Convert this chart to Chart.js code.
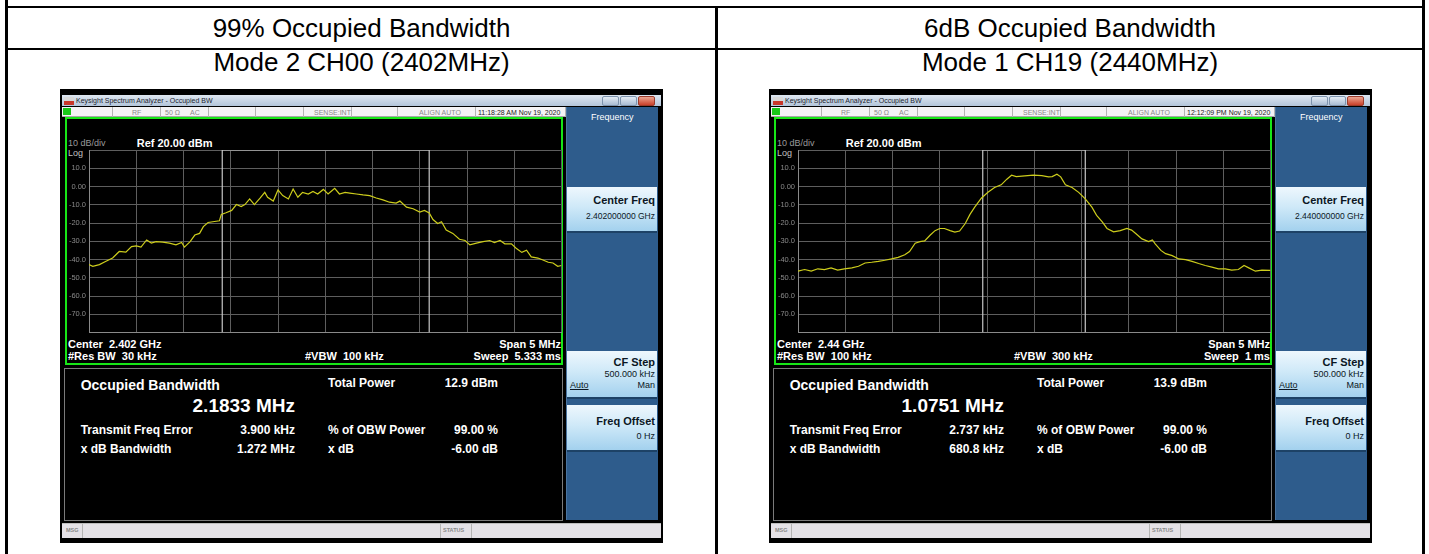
<!DOCTYPE html>
<html>
<head>
<meta charset="utf-8">
<script src="https://cdn.jsdelivr.net/npm/chart.js@4"></script>
<style>
body{margin:0;background:#fff;width:1429px;height:554px;overflow:hidden;position:relative;font-family:Arial,"Liberation Sans",sans-serif}
.ln{position:absolute;background:#000}
.cap{position:absolute;font-size:26px;line-height:1;text-align:center;color:#000;white-space:nowrap}
.scr{position:absolute;top:89px;width:603px;height:454px;background:#000;overflow:hidden}
.t{position:absolute;line-height:1;white-space:pre;color:#fff}
.titlebar{position:absolute;left:2px;top:6px;width:599px;height:11px;background:linear-gradient(#dfe7f1,#b3c5da)}
.ico{position:absolute;left:4px;top:8px;width:10px;height:8px;background:linear-gradient(#d8d8d8 0 45%,#c8372a 45%)}
.wb{position:absolute;top:7px;width:15px;height:8px;border:1px solid #7d93ad;border-radius:2px;background:linear-gradient(#e3ebf4,#a9bcd3)}
.wb.close{background:linear-gradient(#eca48f,#c8412b);border-color:#9b3a2a}
.status{position:absolute;left:2px;top:18px;width:503px;height:9px;background:#f4f3f5;border-bottom:1px solid #a8a8a8}
.dv{position:absolute;top:18px;width:1px;height:10px;background:#b4b4b4}
.lxi{position:absolute;left:3px;top:19px;width:8px;height:7px;background:#19c819}
.green{position:absolute;left:5px;top:28px;width:494px;height:244px;border:2px solid #17e617}
.lower{position:absolute;left:4px;top:279px;width:497px;height:151px;border:1px solid #7a7a7a;background:#000}
.panel{position:absolute;left:506px;top:18px;width:91px;height:413px;background:#2e5c8c;border-left:1px solid #4a74a0}
.btn{position:absolute;left:507px;width:90px;background:linear-gradient(#eef7fd,#cfe9f8 45%,#a3d1ee);box-shadow:0 2px 0 #1d4266}
.msg{position:absolute;left:2px;top:434px;width:599px;height:14px;background:#e4e1e6;border-top:1px solid #bdbdbd}
canvas{position:absolute;left:6px;top:51px}
</style>
</head>
<body>
<div class="ln" style="left:5px;top:0;width:3px;height:554px"></div>
<div class="ln" style="left:1422px;top:0;width:3px;height:554px"></div>
<div class="ln" style="left:715px;top:6px;width:3px;height:548px"></div>
<div class="ln" style="left:5px;top:6px;width:1420px;height:2px"></div>
<div class="ln" style="left:5px;top:48px;width:1420px;height:2px"></div>
<div class="cap" style="left:8px;width:707px;top:15px">99% Occupied Bandwidth</div>
<div class="cap" style="left:718px;width:704px;top:15px">6dB Occupied Bandwidth</div>
<div class="cap" style="left:8px;width:707px;top:49px">Mode 2 CH00 (2402MHz)</div>
<div class="cap" style="left:718px;width:704px;top:49px">Mode 1 CH19 (2440MHz)</div>
<div id="screens"></div>
<script>
// trace A: Mode 2 CH00, offsets from centre in MHz / level in dBm
const freqA = [-2.50, -2.46, -2.39, -2.32, -2.25, -2.18, -2.11, -2.05, -2.00, -1.95, -1.89, -1.84, -1.79, -1.72, -1.65, -1.58, -1.52, -1.49, -1.43, -1.38, -1.33, -1.29, -1.24, -1.19, -1.12, -1.10, -1.05, -0.99, -0.94, -0.89, -0.85, -0.80, -0.75, -0.69, -0.64, -0.61, -0.55, -0.50, -0.45, -0.39, -0.34, -0.29, -0.24, -0.18, -0.13, -0.08, -0.02, 0.03, 0.07, 0.10, 0.15, 0.21, 0.26, 0.33, 0.40, 0.47, 0.54, 0.61, 0.68, 0.75, 0.79, 0.86, 0.93, 1.00, 1.05, 1.10, 1.14, 1.19, 1.23, 1.28, 1.35, 1.42, 1.48, 1.53, 1.60, 1.67, 1.74, 1.79, 1.85, 1.90, 1.97, 2.02, 2.08, 2.13, 2.18, 2.25, 2.31, 2.36, 2.41, 2.46, 2.50];
const levelA = [-42.8, -43.7, -42.8, -41.0, -39.2, -35.6, -36.0, -32.9, -32.5, -33.2, -29.3, -31.0, -30.2, -30.5, -31.0, -32.0, -30.7, -33.2, -30.2, -26.6, -25.7, -22.0, -19.7, -19.3, -18.8, -15.3, -14.4, -13.1, -9.9, -11.0, -9.9, -6.8, -9.9, -6.4, -3.2, -5.9, -8.0, -1.9, -5.0, -6.8, -1.4, -5.9, -3.2, -4.1, -2.7, -4.1, -1.6, -4.1, -2.3, -1.0, -4.1, -3.2, -3.6, -4.1, -4.6, -5.0, -6.3, -7.3, -8.6, -9.1, -8.0, -11.3, -12.2, -14.0, -13.1, -14.5, -18.1, -20.3, -19.3, -23.9, -25.7, -28.9, -29.6, -32.0, -31.0, -30.2, -29.6, -30.7, -29.6, -31.4, -31.4, -33.8, -36.1, -34.9, -38.6, -39.2, -40.4, -41.5, -41.9, -43.7, -43.3];
const obwA = [-1.09, 1.10];

// trace B: Mode 1 CH19
const freqB = [-2.50, -2.43, -2.36, -2.29, -2.22, -2.15, -2.08, -2.01, -1.93, -1.86, -1.79, -1.72, -1.65, -1.58, -1.51, -1.44, -1.37, -1.32, -1.26, -1.21, -1.16, -1.10, -1.05, -1.00, -0.95, -0.89, -0.84, -0.79, -0.73, -0.68, -0.63, -0.56, -0.49, -0.42, -0.35, -0.29, -0.24, -0.19, -0.10, -0.01, 0.08, 0.15, 0.19, 0.24, 0.28, 0.33, 0.40, 0.47, 0.54, 0.61, 0.66, 0.72, 0.77, 0.84, 0.91, 0.98, 1.03, 1.08, 1.14, 1.21, 1.25, 1.28, 1.34, 1.39, 1.46, 1.53, 1.60, 1.67, 1.74, 1.81, 1.88, 1.95, 2.02, 2.09, 2.16, 2.22, 2.27, 2.34, 2.41, 2.50];
const levelB = [-46.4, -45.5, -46.4, -45.1, -45.5, -44.6, -45.8, -45.1, -44.6, -43.7, -41.9, -41.5, -41.0, -40.4, -39.7, -38.8, -37.4, -35.6, -31.1, -30.2, -29.8, -26.6, -24.2, -23.0, -23.0, -24.2, -25.0, -24.4, -20.3, -15.3, -11.3, -6.4, -3.2, -0.5, 0.9, 4.0, 6.2, 5.4, 5.8, 6.2, 6.0, 5.3, 5.4, 6.7, 5.3, 0.9, -0.5, -3.2, -6.8, -11.3, -15.8, -19.4, -23.0, -24.8, -24.2, -23.0, -23.9, -26.0, -28.7, -30.2, -29.3, -31.4, -35.0, -36.8, -37.9, -39.7, -40.1, -41.0, -42.2, -43.3, -44.2, -45.1, -45.1, -45.8, -45.5, -43.3, -44.6, -46.4, -45.8, -46.0];
const obwB = [-0.545, 0.54];

const tickValues = [20, 10, 0, -10, -20, -30, -40, -50, -60, -70, -80];
const tickLabels = ["", "10.0", "0.00", "-10.0", "-20.0", "-30.0", "-40.0", "-50.0", "-60.0", "-70.0", ""];

const screensInfo = [
  { left: 60, id: "chartA", time: "11:18:28 AM Nov 19, 2020", center: "Center  2.402 GHz", rbw: "#Res BW  30 kHz", vbw: "#VBW  100 kHz", sweep: "Sweep  5.333 ms",
    obw: "2.1833 MHz", power: "12.9 dBm", err: "3.900 kHz", xdb: "1.272 MHz", cf: "2.402000000 GHz" },
  { left: 769, id: "chartB", time: "12:12:09 PM Nov 19, 2020", center: "Center  2.44 GHz", rbw: "#Res BW  100 kHz", vbw: "#VBW  300 kHz", sweep: "Sweep  1 ms",
    obw: "1.0751 MHz", power: "13.9 dBm", err: "2.737 kHz", xdb: "680.8 kHz", cf: "2.440000000 GHz" }
];

function tx(x, cy, fs, s, style) {
  return `<div class="t" style="left:${x}px;top:${cy - 0.49 * fs}px;font-size:${fs}px;${style || ""}">${s}</div>`;
}
function txr(x, cy, fs, s, style) {
  return `<div class="t" style="right:${603 - x}px;top:${cy - 0.49 * fs}px;font-size:${fs}px;${style || ""}">${s}</div>`;
}

let html = "";
for (const s of screensInfo) {
  const dv = [52, 100, 148, 195, 243, 291, 337, 415, 505].map(x => `<div class="dv" style="left:${x}px"></div>`).join("");
  const grey = "color:#8a8a8a;";
  html += `<div class="scr" style="left:${s.left}px">
    <div class="titlebar"></div><div class="ico"></div>
    ${tx(16, 11.5, 7, "Keysight Spectrum Analyzer - Occupied BW", "color:#1c2430")}
    <div class="wb" style="left:542px"></div><div class="wb" style="left:560px"></div><div class="wb close" style="left:578px"></div>
    <div class="status"></div>${dv}<div class="lxi"></div>
    ${tx(72, 23, 7, "RF", grey)}${tx(105, 23, 7, "50 Ω", grey)}${tx(130, 23, 7, "AC", grey)}
    ${tx(254, 23, 7, "SENSE:INT", grey)}${tx(359, 23, 7, "ALIGN AUTO", grey)}${tx(418, 23, 7, s.time, "color:#222")}
    <div class="green"></div>
    ${tx(8, 54.7, 9, "10 dB/div", "color:#9a9a9a")}
    ${tx(76.7, 54, 11, "Ref 20.00 dBm", "font-weight:bold")}
    ${tx(8, 64, 9, "Log", "color:#c0c0c0")}
    ${tx(8, 255, 11, s.center, "font-weight:bold")}
    ${tx(8, 267.7, 11, s.rbw, "font-weight:bold")}
    ${tx(245, 267.7, 11, s.vbw, "font-weight:bold")}
    ${txr(501, 255, 11, "Span 5 MHz", "font-weight:bold")}
    ${txr(501, 267.7, 11, s.sweep, "font-weight:bold")}
    <canvas id="${s.id}" width="497" height="200"></canvas>
    <div class="lower"></div>
    ${tx(20.7, 295.5, 14, "Occupied Bandwidth", "font-weight:bold")}
    ${txr(235, 316, 19, s.obw, "font-weight:bold")}
    ${tx(268, 293.5, 12, "Total Power", "font-weight:bold")}
    ${txr(438, 293.5, 12, s.power, "font-weight:bold")}
    ${tx(20.7, 341, 12, "Transmit Freq Error", "font-weight:bold")}
    ${txr(235, 341, 12, s.err, "font-weight:bold")}
    ${tx(268, 341, 12, "% of OBW Power", "font-weight:bold")}
    ${txr(438, 341, 12, "99.00 %", "font-weight:bold")}
    ${tx(20.7, 360, 12, "x dB Bandwidth", "font-weight:bold")}
    ${txr(235, 360, 12, s.xdb, "font-weight:bold")}
    ${tx(268, 360, 12, "x dB", "font-weight:bold")}
    ${txr(438, 360, 12, "-6.00 dB", "font-weight:bold")}
    <div class="panel"></div>
    ${tx(531, 28, 9, "Frequency", "")}
    <div class="btn" style="top:98px;height:44px"></div>
    ${txr(595, 111, 11, "Center Freq", "font-weight:bold;color:#0b1724")}
    ${txr(595, 127, 8.5, s.cf, "color:#0b1724")}
    <div class="btn" style="top:262px;height:46px"></div>
    ${txr(595, 273.7, 11, "CF Step", "font-weight:bold;color:#0b1724")}
    ${txr(595, 285, 9, "500.000 kHz", "color:#0b1724")}
    ${tx(510, 296.7, 9, "Auto", "color:#0b1724;text-decoration:underline")}
    ${txr(595, 296.7, 9, "Man", "color:#0b1724")}
    <div class="btn" style="top:316px;height:45px"></div>
    ${txr(595, 332.7, 11, "Freq Offset", "font-weight:bold;color:#0b1724")}
    ${txr(595, 347.7, 9, "0 Hz", "color:#0b1724")}
    <div class="msg"></div>
    <div class="dv" style="left:22px;top:435px;height:14px"></div>
    <div class="dv" style="left:380px;top:435px;height:14px"></div>
    <div class="dv" style="left:411px;top:435px;height:14px"></div>
    ${tx(6, 441.5, 5.5, "MSG", "color:#888;font-weight:bold")}
    ${tx(383, 441.5, 5.5, "STATUS", "color:#888;font-weight:bold")}
  </div>`;
}
document.getElementById("screens").innerHTML = html;

function drawTrace(id, freqs, levels, obw) {
  new Chart(document.getElementById(id), {
    type: "line",
    data: {
      datasets: [
        {
          data: freqs.map((f, i) => ({ x: f, y: levels[i] })),
          borderColor: "#cdcd1c",
          borderWidth: 1.2,
          pointRadius: 0,
          tension: 0,
          order: 0,
        },
        {
          // OBW marker lines joined across the top
          data: [{ x: obw[0], y: -80 }, { x: obw[0], y: 20 }, { x: obw[1], y: 20 }, { x: obw[1], y: -80 }],
          borderColor: "#c8c8c8",
          borderWidth: 1.2,
          pointRadius: 0,
          tension: 0,
          order: 1,
        },
      ],
    },
    options: {
      responsive: false,
      animation: false,
      devicePixelRatio: 1,
      layout: { padding: { top: 10, right: 1.5, bottom: 5, left: 0 } },
      plugins: { legend: { display: false }, tooltip: { enabled: false } },
      scales: {
        x: {
          type: "linear",
          min: -2.5,
          max: 2.5,
          ticks: { display: false, stepSize: 0.5 },
          grid: { color: "#5e5e5e", drawTicks: false },
          border: { color: "#8a8a8a" },
        },
        y: {
          min: -80,
          max: 20,
          afterFit: (scale) => { scale.width = 23; },
          ticks: {
            stepSize: 10,
            padding: 3,
            color: "#8a8a8a",
            font: { family: "Arial, 'Liberation Sans', sans-serif", size: 7.5 },
            callback: (v) => tickLabels[tickValues.indexOf(v)],
          },
          grid: { color: "#5e5e5e", drawTicks: false },
          border: { color: "#8a8a8a" },
        },
      },
    },
  });
}

drawTrace("chartA", freqA, levelA, obwA);
drawTrace("chartB", freqB, levelB, obwB);
</script>
</body>
</html>
